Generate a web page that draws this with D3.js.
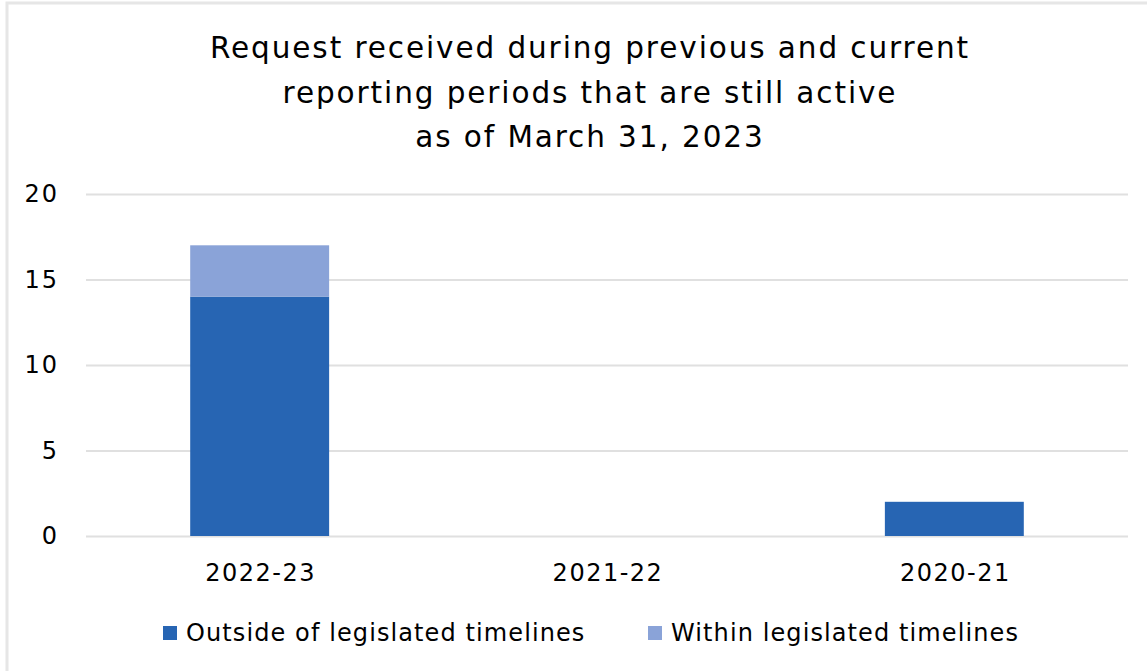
<!DOCTYPE html>
<html>
<head>
<meta charset="utf-8">
<script src="https://cdn.jsdelivr.net/npm/d3@7"></script>
<style>
  html, body { margin: 0; padding: 0; background: #fff; }
  svg { display: block; font-family: "DejaVu Sans", sans-serif; }
</style>
</head>
<body>
<div id="chart"></div>
<script>
const titleLines = ["Request received during previous and current", "reporting periods that are still active", "as of March 31, 2023"];
const categories = ["2022-23", "2021-22", "2020-21"];
const seriesNames = ["Outside of legislated timelines", "Within legislated timelines"];
const outside = [14, 0, 2];
const within = [3, 0, 0];
const yTicks = [0, 5, 10, 15, 20];
const colors = ["#2765b3", "#8aa3d8"];

const width = 1147, height = 671;
const marginTop = 194, marginRight = 19, marginBottom = 135, marginLeft = 86;

const rows = categories.map((c, i) => ({ cat: c, outside: outside[i], within: within[i] }));
const stack = d3.stack().keys(["outside", "within"])(rows);

const svg = d3.select("#chart").append("svg")
  .attr("width", width).attr("height", height);

// frame
svg.append("path")
  .attr("d", `M7,${height} V3 H${width}`)
  .attr("fill", "none").attr("stroke", "#e6e6e6").attr("stroke-width", 3);

const x = d3.scaleBand()
  .domain(categories)
  .range([marginLeft, width - marginRight])
  .paddingInner(0.6).paddingOuter(0.3);

const y = d3.scaleLinear()
  .domain([0, 20])
  .range([height - marginBottom, marginTop]);

// title
svg.append("text")
  .attr("text-anchor", "middle")
  .attr("font-size", 29.5)
  .attr("letter-spacing", 1.9)
  .attr("fill", "#000")
  .selectAll("tspan")
  .data(titleLines)
  .join("tspan")
    .attr("x", 590)
    .attr("y", (d, i) => 58 + i * 44.5)
    .text(d => d);

// y axis with gridlines
svg.append("g")
  .attr("transform", `translate(${marginLeft},0)`)
  .call(d3.axisLeft(y).tickValues(yTicks).tickSize(0).tickPadding(27))
  .call(g => g.select(".domain").remove())
  .call(g => g.selectAll(".tick line").clone()
      .attr("x2", width - marginLeft - marginRight)
      .attr("stroke", "#e0e0e0").attr("stroke-width", 2))
  .call(g => g.selectAll(".tick text")
      .attr("font-size", 24).attr("letter-spacing", 2)
      .attr("fill", "#000").attr("font-family", "DejaVu Sans"));

// bars
svg.append("g")
  .selectAll("g")
  .data(stack)
  .join("g")
    .attr("fill", (d, i) => colors[i])
  .selectAll("rect")
  .data(d => d.filter(s => s[1] - s[0] > 0))
  .join("rect")
    .attr("x", d => x(d.data.cat))
    .attr("y", d => y(d[1]))
    .attr("width", x.bandwidth())
    .attr("height", d => y(d[0]) - y(d[1]));

// x axis labels
svg.append("g")
  .attr("transform", `translate(1,${height - marginBottom})`)
  .call(d3.axisBottom(x).tickSize(0).tickPadding(28))
  .call(g => g.select(".domain").remove())
  .call(g => g.selectAll(".tick text")
      .attr("font-size", 24).attr("letter-spacing", 1.5)
      .attr("fill", "#000").attr("font-family", "DejaVu Sans"));

// legend
const legendX = [163, 648];
const legend = svg.append("g")
  .selectAll("g")
  .data(seriesNames)
  .join("g")
    .attr("transform", (d, i) => `translate(${legendX[i]},633)`);
legend.append("rect")
  .attr("x", 0).attr("y", -7).attr("width", 14).attr("height", 14)
  .attr("fill", (d, i) => colors[i]);
legend.append("text")
  .attr("x", 23).attr("y", 0).attr("dy", "0.35em")
  .attr("font-size", 24).attr("letter-spacing", 1.1).attr("fill", "#000")
  .text(d => d);
</script>
</body>
</html>
